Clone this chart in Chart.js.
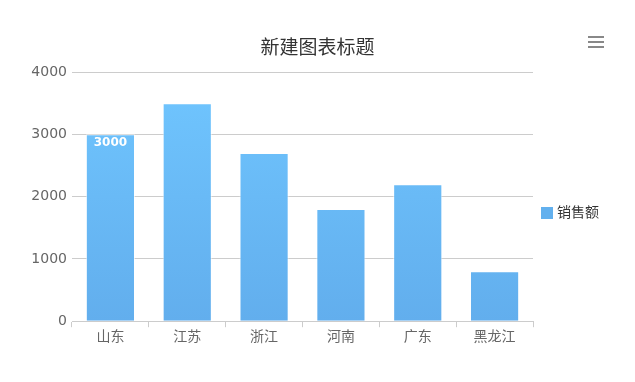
<!DOCTYPE html>
<html>
<head>
<meta charset="utf-8">
<script src="https://cdn.jsdelivr.net/npm/chart.js@4"></script>
<style>
  html, body { margin: 0; padding: 0; background: #fff; }
  canvas { display: block; }
</style>
</head>
<body>
<canvas id="myChart" width="635" height="382"></canvas>
<script>
const provinces = ['山东', '江苏', '浙江', '河南', '广东', '黑龙江'];
const sales = [3000, 3500, 2700, 1800, 2200, 800];
const yTicks = [0, 1000, 2000, 3000, 4000];
const seriesName = '销售额';
const chartTitle = '新建图表标题';

const FONT = "'DejaVu Sans', 'Noto Sans CJK SC', sans-serif";

// title centred on the whole canvas, legend sitting at the right
const decor = {
    id: 'decor',
    afterDraw(chart) {
        const c = chart.ctx;
        c.save();
        c.fillStyle = '#333';
        c.font = '19px ' + FONT;
        c.textAlign = 'center';
        c.textBaseline = 'middle';
        c.fillText(chartTitle, chart.width / 2, 49);

        c.fillStyle = '#62b0ee';
        c.fillRect(541, 207, 12, 12);
        c.fillStyle = '#333';
        c.font = '14px ' + FONT;
        c.textAlign = 'left';
        c.fillText(seriesName, 557, 213);

        // menu icon
        c.strokeStyle = '#888';
        c.lineWidth = 2;
        [37, 42, 47].forEach(y => {
            c.beginPath();
            c.moveTo(588, y);
            c.lineTo(604, y);
            c.stroke();
        });

        // only the first bar carries its value
        const bar = chart.getDatasetMeta(0).data[0];
        c.fillStyle = '#fff';
        c.font = 'bold 12px ' + FONT;
        c.textAlign = 'center';
        c.fillText(String(sales[0]), bar.x, bar.y + 9);
        c.restore();
    }
};

const ctx = document.getElementById('myChart').getContext('2d');
let myChart = new Chart(ctx, {
    type: 'bar',
    data: {
        labels: provinces,
        datasets: [{
            label: seriesName,
            data: sales,
            backgroundColor: (context) => {
                const area = context.chart.chartArea;
                if (!area) return '#66baf7';
                const g = context.chart.ctx.createLinearGradient(0, area.top, 0, area.bottom);
                g.addColorStop(0, '#70c6ff');
                g.addColorStop(1, '#62aeed');
                return g;
            },
            borderColor: 'rgba(255,255,255,0.6)',
            borderWidth: 1,
            categoryPercentage: 0.64,
            barPercentage: 1
        }]
    },
    options: {
        responsive: false,
        animation: false,
        layout: { padding: { top: 72, right: 102, bottom: 34, left: 0 } },
        plugins: {
            title: { display: false },
            legend: { display: false },
            tooltip: { enabled: false }
        },
        scales: {
            x: {
                grid: { drawOnChartArea: false, drawTicks: true, tickLength: 6, color: '#ccc' },
                border: { color: '#ccc' },
                ticks: { color: '#666', font: { family: FONT, size: 14 }, padding: 2 }
            },
            y: {
                min: 0,
                max: 4000,
                afterBuildTicks: (scale) => { scale.ticks = yTicks.map(v => ({ value: v })); },
                afterFit: (scale) => { scale.width = 72; },
                grid: { color: '#ccc', drawTicks: false },
                border: { display: false },
                ticks: {
                    color: '#666',
                    font: { family: FONT, size: 14 },
                    padding: 5,
                    callback: (v) => String(v)
                }
            }
        }
    },
    plugins: [decor]
});
</script>
</body>
</html>
